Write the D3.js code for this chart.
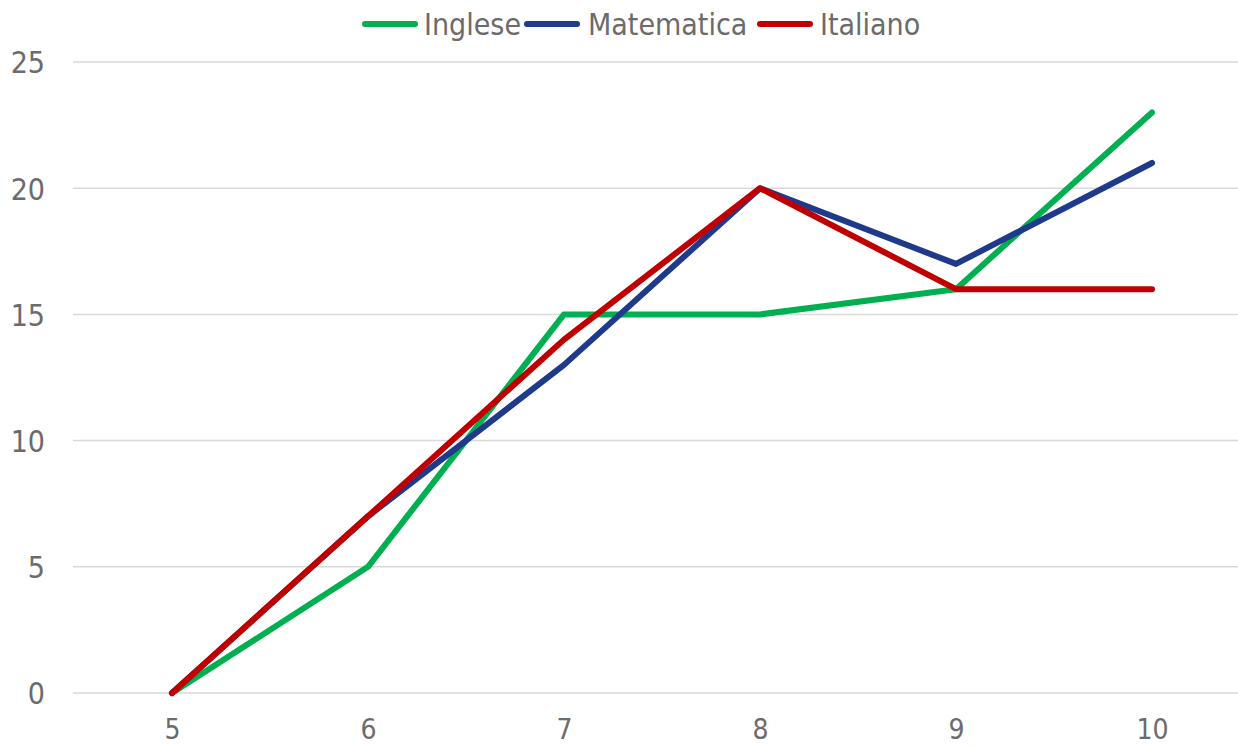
<!DOCTYPE html>
<html><head><meta charset="utf-8">
<script src="https://cdn.jsdelivr.net/npm/d3@7"></script>
<style>body{margin:0;background:#fff;}svg{display:block;}</style>
</head><body>
<svg id="c" width="1238" height="747"></svg>
<script>
const categories = ["5","6","7","8","9","10"];
const inglese = [0,5,15,15,16,23];
const matematica = [0,7,13,20,17,21];
const italiano = [0,7,14,20,16,16];
const yTicks = [0,5,10,15,20,25];
const seriesNames = ["Inglese","Matematica","Italiano"];
const seriesColors = ["#00B050","#1F3A8A","#C00000"];
const seriesData = [inglese, matematica, italiano];

const svg = d3.select("#c");
const font = "'DejaVu Sans Condensed', 'DejaVu Sans', sans-serif";
const textColor = "#6B6B6B";
const fs = 30;
const x = d3.scalePoint().domain(categories).range([172,1152]);
const y = d3.scaleLinear().domain([0,25]).range([693,62]);

// gridlines
svg.append("g").selectAll("line").data(yTicks).join("line")
  .attr("x1",73).attr("x2",1238)
  .attr("y1",d=>y(d)).attr("y2",d=>y(d))
  .attr("stroke","#D9D9D9").attr("stroke-width",1.5);

// y axis labels
const yAxis = d3.axisLeft(y).tickValues(yTicks).tickSize(0).tickPadding(0);
const yg = svg.append("g").attr("transform","translate(45,0)").call(yAxis);
yg.select(".domain").remove();
yg.selectAll("text").attr("font-family",font).attr("font-size",fs).attr("fill",textColor).attr("dy","0.36em");

// x axis labels
const xAxis = d3.axisBottom(x).tickSize(0).tickPadding(0);
const xg = svg.append("g").attr("transform","translate(0,729)").call(xAxis);
xg.select(".domain").remove();
xg.selectAll("text").attr("font-family",font).attr("font-size",28).attr("fill",textColor).attr("y",0).attr("dy","0.36em");

// lines
const line = d3.line().x((d,i)=>x(categories[i])).y(d=>y(d));
seriesData.forEach((s,k)=>{
  svg.append("path").datum(s).attr("d",line)
    .attr("fill","none").attr("stroke",seriesColors[k]).attr("stroke-width",6)
    .attr("stroke-linecap","round").attr("stroke-linejoin","round");
});

// legend
const lineX = [365, 527, 760];
const textX = [424, 588, 820];
const lg = svg.append("g");
seriesNames.forEach((n,k)=>{
  lg.append("line").attr("x1",lineX[k]).attr("x2",lineX[k]+50).attr("y1",24).attr("y2",24)
    .attr("stroke",seriesColors[k]).attr("stroke-width",6).attr("stroke-linecap","round");
  lg.append("text").attr("x",textX[k]).attr("y",24).attr("dy","0.36em")
    .attr("font-family",font).attr("font-size",fs).attr("fill",textColor).text(n);
});
</script>
</body></html>
